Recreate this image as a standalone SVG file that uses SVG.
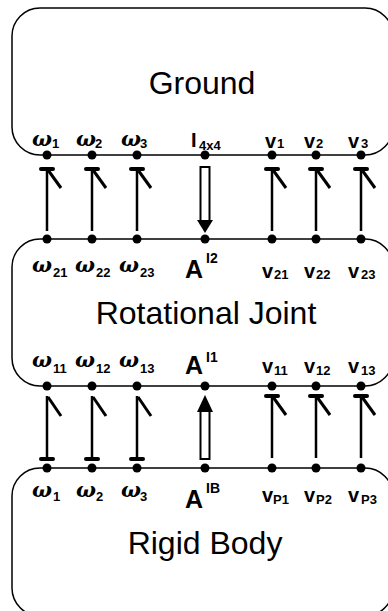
<svg xmlns="http://www.w3.org/2000/svg" width="388" height="611" viewBox="0 0 388 611">
<style>
.box{fill:#fff;stroke:#000;stroke-width:1.5}
.title{font-family:"Liberation Sans",Arial,sans-serif;font-size:32px;text-anchor:middle;fill:#000}
.w{font-family:"DejaVu Serif","Liberation Serif",serif;font-weight:bold;font-style:italic;font-size:21px;fill:#000}
.v{font-family:"Liberation Sans",Arial,sans-serif;font-weight:bold;font-size:20px;fill:#000}
.A{font-family:"Liberation Sans",Arial,sans-serif;font-weight:bold;font-size:25px;fill:#000}
.s{font-family:"Liberation Sans",Arial,sans-serif;font-weight:bold;font-size:13px;fill:#000}
.sup{font-family:"Liberation Sans",Arial,sans-serif;font-weight:bold;font-size:14px;fill:#000}
.ln{stroke:#000;stroke-width:2.5;fill:none}
.barb{stroke:#000;stroke-width:3;fill:none}
.cs{stroke:#000;stroke-width:4;stroke-linecap:round;fill:none}
.dot{fill:#000}
.hol{fill:#fff;stroke:#000;stroke-width:2}
</style>
<defs>
<g id="upA"><line class="ln" x1="0" y1="62" x2="0" y2="0"/><line class="cs" x1="-6" y1="0" x2="6" y2="0"/><line class="barb" x1="1" y1="1" x2="14" y2="19"/></g>
<g id="upB"><line class="ln" x1="0" y1="63" x2="0" y2="0"/><line class="cs" x1="-6" y1="63" x2="6" y2="63"/><line class="barb" x1="1" y1="1" x2="14" y2="20"/></g>
</defs>
<g id="ground">
<rect class="box" x="12" y="8" width="381" height="147" rx="28" ry="28"/>
<text class="title" x="202" y="94">Ground</text>
<text class="w" x="32" y="146">ω</text><text class="s" x="52" y="148">1</text>
<text class="w" x="76" y="146">ω</text><text class="s" x="95" y="148">2</text>
<text class="w" x="121" y="146">ω</text><text class="s" x="140" y="148">3</text>
<text class="v" x="191" y="147">I</text><text class="s" x="199" y="150">4x4</text>
<text class="v" x="265" y="148">v</text><text class="s" x="277" y="148">1</text>
<text class="v" x="304" y="148">v</text><text class="s" x="316" y="148">2</text>
<text class="v" x="348" y="148">v</text><text class="s" x="361" y="148">3</text>
<circle class="dot" cx="47" cy="155" r="4.5"/><circle class="dot" cx="92" cy="155" r="4.5"/><circle class="dot" cx="137" cy="155" r="4.5"/><circle class="dot" cx="205" cy="155" r="4.5"/><circle class="dot" cx="272" cy="155" r="4.5"/><circle class="dot" cx="316" cy="155" r="4.5"/><circle class="dot" cx="361" cy="155" r="4.5"/>
</g>
<g id="joint">
<rect class="box" x="12" y="239" width="381" height="147" rx="28" ry="28"/>
<text class="title" x="206" y="324">Rotational Joint</text>
<text class="w" x="32" y="272">ω</text><text class="s" x="53" y="277">21</text>
<text class="w" x="75" y="272">ω</text><text class="s" x="96" y="277">22</text>
<text class="w" x="119" y="272">ω</text><text class="s" x="140" y="277">23</text>
<text class="A" x="185" y="278">A</text><text class="sup" x="206" y="263">I2</text>
<text class="v" x="262" y="278">v</text><text class="s" x="274" y="279">21</text>
<text class="v" x="304" y="278">v</text><text class="s" x="316" y="279">22</text>
<text class="v" x="348" y="278">v</text><text class="s" x="361" y="279">23</text>
<text class="w" x="32" y="367">ω</text><text class="s" x="53" y="373">11</text>
<text class="w" x="75" y="367">ω</text><text class="s" x="96" y="373">12</text>
<text class="w" x="119" y="367">ω</text><text class="s" x="140" y="373">13</text>
<text class="A" x="185" y="374">A</text><text class="sup" x="206" y="362">I1</text>
<text class="v" x="262" y="373">v</text><text class="s" x="274" y="375">11</text>
<text class="v" x="304" y="373">v</text><text class="s" x="316" y="375">12</text>
<text class="v" x="348" y="373">v</text><text class="s" x="361" y="375">13</text>
<circle class="dot" cx="47" cy="239" r="4.5"/><circle class="dot" cx="92" cy="239" r="4.5"/><circle class="dot" cx="137" cy="239" r="4.5"/><circle class="dot" cx="205" cy="239" r="4.5"/><circle class="dot" cx="272" cy="239" r="4.5"/><circle class="dot" cx="316" cy="239" r="4.5"/><circle class="dot" cx="361" cy="239" r="4.5"/>
<circle class="dot" cx="47" cy="386" r="4.5"/><circle class="dot" cx="92" cy="386" r="4.5"/><circle class="dot" cx="137" cy="386" r="4.5"/><circle class="dot" cx="205" cy="386" r="4.5"/><circle class="dot" cx="272" cy="386" r="4.5"/><circle class="dot" cx="316" cy="386" r="4.5"/><circle class="dot" cx="361" cy="386" r="4.5"/>
</g>
<g id="body">
<rect class="box" x="12" y="468" width="381" height="148" rx="28" ry="28"/>
<text class="title" x="205" y="554">Rigid Body</text>
<text class="w" x="32" y="497">ω</text><text class="s" x="53" y="501">1</text>
<text class="w" x="76" y="497">ω</text><text class="s" x="96" y="501">2</text>
<text class="w" x="121" y="497">ω</text><text class="s" x="140" y="501">3</text>
<text class="A" x="185" y="508">A</text><text class="sup" x="206" y="493">IB</text>
<text class="v" x="262" y="502">v</text><text class="s" x="273" y="504">P1</text>
<text class="v" x="304" y="502">v</text><text class="s" x="316" y="504">P2</text>
<text class="v" x="348" y="502">v</text><text class="s" x="361" y="504">P3</text>
<circle class="dot" cx="47" cy="468" r="4.5"/><circle class="dot" cx="92" cy="468" r="4.5"/><circle class="dot" cx="137" cy="468" r="4.5"/><circle class="dot" cx="205" cy="468" r="4.5"/><circle class="dot" cx="272" cy="468" r="4.5"/><circle class="dot" cx="316" cy="468" r="4.5"/><circle class="dot" cx="361" cy="468" r="4.5"/>
</g>
<g id="connectors">
<use href="#upA" x="47" y="169"/><use href="#upA" x="92" y="169"/><use href="#upA" x="137" y="169"/>
<use href="#upA" x="272" y="169"/><use href="#upA" x="316" y="169"/><use href="#upA" x="361" y="169"/>
<rect class="hol" x="200.5" y="167" width="9" height="54"/>
<polygon points="197,220 213,220 205,233" fill="#000"/>
<use href="#upB" x="47" y="396"/><use href="#upB" x="92" y="396"/><use href="#upB" x="137" y="396"/>
<use href="#upA" x="272" y="396"/><use href="#upA" x="316" y="396"/><use href="#upA" x="361" y="396"/>
<rect class="hol" x="200.5" y="411" width="9" height="48"/>
<polygon points="197,412 213,412 205,395" fill="#000"/>
</g>
</svg>
